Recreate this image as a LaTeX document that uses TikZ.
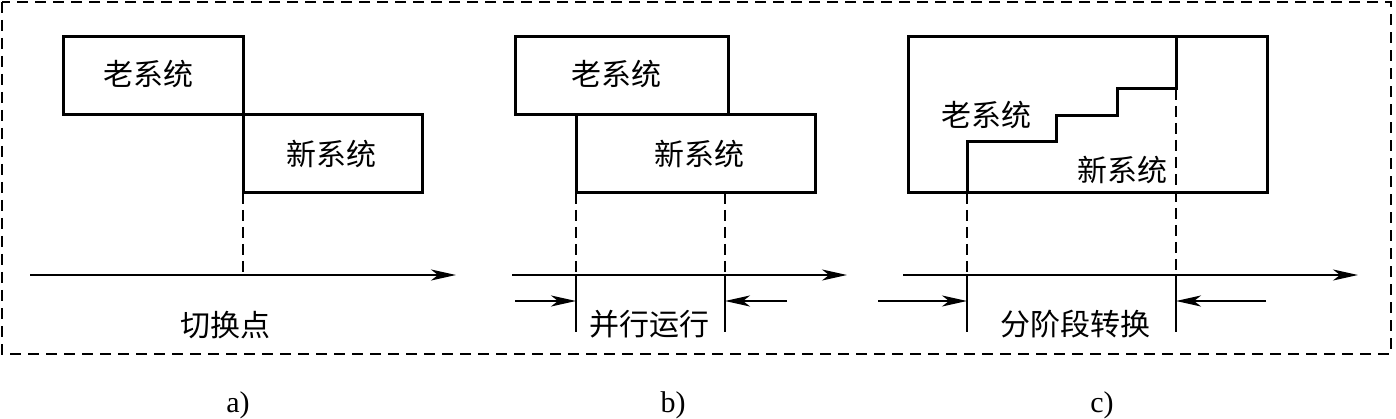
\documentclass[tikz,border=0pt]{standalone}
\usepackage{fontspec}
\setmainfont{Liberation Serif}
\newfontfamily\cjk{Noto Sans CJK SC}
\usetikzlibrary{arrows.meta}
\tikzset{
  sysbox/.style={draw, line width=3pt, inner sep=0pt, outer sep=0pt, rectangle},
  cjklabel/.style={font=\cjk\fontsize{30}{32}\selectfont, inner sep=0pt},
  sublabel/.style={font=\fontsize{30}{32}\selectfont, inner sep=0pt},
  guide/.style={line width=2.2pt, dash pattern=on 11pt off 6pt},
  marker/.style={line width=2.2pt},
  axis/.style={line width=2.2pt, -{Stealth[length=25pt,width=11pt,inset=7pt]}},
  pointer/.style={line width=2.2pt, -{Stealth[length=25pt,width=11pt,inset=7pt]}},
  frame/.style={line width=2pt, dash pattern=on 11pt off 7pt}
}
\begin{document}
\begin{tikzpicture}[x=1pt,y=-1pt]
\useasboundingbox (0,0) rectangle (1396,419);
% outer frame
\draw[frame] (2,2) rectangle (1391,354);

% ---------- panel a ----------
\node[sysbox, minimum width=180pt, minimum height=78pt] (aold) at (153,76) {};
\node[sysbox, minimum width=179pt, minimum height=78pt] (anew) at (332.5,154) {};
\node[cjklabel] (aoldt) at (148,74) {老系统};
\node[cjklabel] (anewt) at (331,154) {新系统};
\coordinate (aax0) at (30,275);
\coordinate (aax1) at (456,275);
\coordinate (acut) at (243,275);
\draw[axis] (aax0) -- (aax1);
\draw[guide] (anew.south west) -- (acut);
\node[cjklabel] (acap) at (225,325) {切换点};
\node[sublabel] (alab) at (238,405) {a)};

% ---------- panel b ----------
\node[sysbox, minimum width=213pt, minimum height=78pt] (bold) at (621.5,76) {};
\node[sysbox, minimum width=239pt, minimum height=78pt] (bnew) at (695.5,154) {};
\node[cjklabel] (boldt) at (616,74) {老系统};
\node[cjklabel] (bnewt) at (699,154) {新系统};
\coordinate (bax0) at (512,275);
\coordinate (bax1) at (847,275);
\draw[axis] (bax0) -- (bax1);
\coordinate (btop1) at (576,193);
\coordinate (bmid1) at (576,275);
\coordinate (bbot1) at (576,332);
\coordinate (btop2) at (725,193);
\coordinate (bmid2) at (725,275);
\coordinate (bbot2) at (725,332);
\draw[guide] (btop1) -- (bmid1);
\draw[guide] (btop2) -- (bmid2);
\draw[marker] (bmid1) -- (bbot1);
\draw[marker] (bmid2) -- (bbot2);
\coordinate (bpl0) at (515,301);
\coordinate (bpl1) at (576,301);
\coordinate (bpr0) at (787,301);
\coordinate (bpr1) at (725,301);
\draw[pointer] (bpl0) -- (bpl1);
\draw[pointer] (bpr0) -- (bpr1);
\node[cjklabel] (bcap) at (649,324) {并行运行};
\node[sublabel] (blab) at (673,405) {b)};

% ---------- panel c ----------
\node[sysbox, minimum width=359pt, minimum height=156pt] (cbox) at (1087.5,115) {};
\draw[line width=3pt] (967,193) -- (967,142) -- (1056,142) -- (1056,116)
  -- (1117,116) -- (1117,89) -- (1176,89) -- (1176,37);
\node[cjklabel] (coldt) at (986,115) {老系统};
\node[cjklabel] (cnewt) at (1122,170) {新系统};
\coordinate (cax0) at (903,275);
\coordinate (cax1) at (1358,275);
\draw[axis] (cax0) -- (cax1);
\coordinate (ctop1) at (967,193);
\coordinate (cmid1) at (967,275);
\coordinate (cbot1) at (967,332);
\coordinate (cstep) at (1176,89);
\coordinate (cmid2) at (1176,275);
\coordinate (cbot2) at (1176,332);
\draw[guide] (ctop1) -- (cmid1);
\draw[guide] (cstep) -- (cmid2);
\draw[marker] (cmid1) -- (cbot1);
\draw[marker] (cmid2) -- (cbot2);
\coordinate (cpl0) at (878,301);
\coordinate (cpl1) at (967,301);
\coordinate (cpr0) at (1266,301);
\coordinate (cpr1) at (1176,301);
\draw[pointer] (cpl0) -- (cpl1);
\draw[pointer] (cpr0) -- (cpr1);
\node[cjklabel] (ccap) at (1075,324) {分阶段转换};
\node[sublabel] (clab) at (1102,405) {c)};
\end{tikzpicture}
\end{document}
